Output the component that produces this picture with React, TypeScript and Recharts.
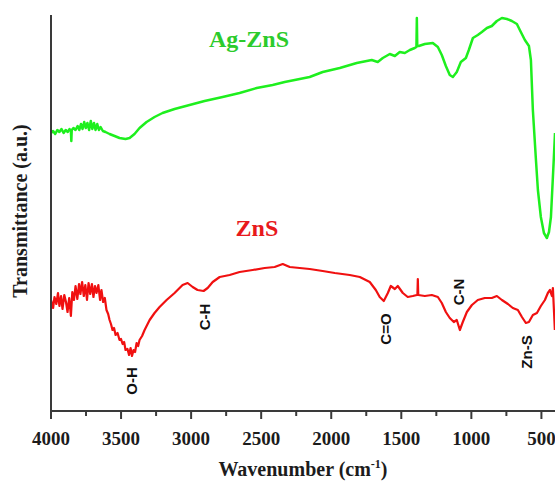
import React from "react";
import { LineChart, Line, XAxis, YAxis, ReferenceDot } from "recharts";

// Ag-ZnS spectrum (wavenumber cm-1, transmittance a.u.)
const agZnSWave = [4000, 3985, 3970, 3955, 3940, 3925, 3910, 3895, 3880, 3868, 3858, 3855, 3852, 3840, 3825, 3810, 3798, 3786, 3775, 3763, 3752, 3740, 3728, 3716, 3705, 3693, 3682, 3670, 3658, 3646, 3630, 3611, 3582, 3546, 3511, 3468, 3439, 3404, 3368, 3318, 3261, 3204, 3118, 3011, 2904, 2775, 2654, 2532, 2418, 2332, 2225, 2154, 2061, 1939, 1818, 1711, 1668, 1632, 1582, 1546, 1511, 1475, 1439, 1404, 1392, 1389, 1386, 1375, 1332, 1275, 1239, 1211, 1182, 1154, 1132, 1104, 1075, 1039, 1018, 989, 954, 925, 889, 854, 818, 782, 746, 711, 675, 654, 618, 589, 575, 561, 539, 525, 504, 482, 461, 446, 432, 411, 403];
const agZnSTrans = [279, 281, 278, 282, 280, 283, 279, 282, 280, 283, 281, 271, 282, 284, 282, 286, 282, 288, 283, 290, 284, 289, 282, 291, 283, 289, 282, 288, 282, 285, 281, 280, 278, 276, 274, 273, 274, 278, 284, 290, 295, 299, 303, 307, 311, 315, 319, 324, 327, 330, 333, 335, 340, 344, 349, 352, 350, 354, 358, 356, 360, 359, 362, 364, 365, 394, 366, 366, 368, 369, 365, 357, 346, 337, 335, 340, 350, 354, 362, 374, 377, 380, 384, 386, 391, 394, 393, 391, 388, 382, 372, 366, 352, 302, 252, 222, 195, 179, 174, 180, 195, 255, 279];

// ZnS spectrum
const znSWave = [4000, 3985, 3975, 3962, 3950, 3940, 3928, 3918, 3905, 3893, 3882, 3870, 3858, 3848, 3836, 3825, 3812, 3800, 3790, 3778, 3766, 3755, 3743, 3732, 3720, 3708, 3697, 3686, 3675, 3662, 3650, 3640, 3628, 3616, 3604, 3592, 3582, 3572, 3561, 3550, 3539, 3525, 3511, 3500, 3489, 3478, 3468, 3454, 3443, 3432, 3422, 3411, 3400, 3389, 3378, 3368, 3350, 3332, 3296, 3261, 3225, 3175, 3118, 3061, 3025, 2989, 2954, 2911, 2882, 2846, 2796, 2725, 2654, 2561, 2475, 2404, 2346, 2296, 2225, 2154, 2061, 1975, 1868, 1796, 1725, 1682, 1654, 1625, 1596, 1575, 1546, 1525, 1489, 1454, 1418, 1389, 1385, 1382, 1379, 1332, 1282, 1239, 1211, 1182, 1154, 1125, 1104, 1082, 1061, 1032, 996, 954, 904, 854, 818, 782, 739, 704, 668, 639, 611, 589, 561, 532, 504, 475, 454, 439, 425, 418, 404];
const znSTrans = [112, 104, 115, 108, 119, 106, 116, 103, 117, 110, 100, 114, 96, 120, 112, 126, 113, 128, 118, 130, 116, 127, 112, 129, 118, 128, 115, 126, 119, 127, 112, 122, 110, 114, 102, 98, 92, 88, 82, 84, 77, 79, 72, 73, 68, 70, 62, 63, 57, 64, 56, 62, 60, 69, 66, 72, 76, 82, 92, 99, 105, 112, 119, 127, 129, 125, 122, 121, 124, 130, 135, 137, 140, 142, 144, 145, 148, 145, 144, 143, 141, 139, 137, 135, 130, 122, 115, 111, 119, 126, 123, 126, 119, 115, 116, 117, 117, 133, 117, 116, 117, 115, 109, 100, 94, 90, 92, 82, 90, 100, 107, 112, 114, 114, 116, 112, 108, 104, 102, 95, 89, 90, 97, 99, 106, 112, 119, 122, 116, 124, 82];

const xTicks = [4000, 3750, 3500, 3250, 3000, 2750, 2500, 2250, 2000, 1750, 1500, 1250, 1000, 750, 500];

// Band annotations: label, wavenumber, transmittance position
const bandLabels = ["O-H", "C-H", "C=O", "C-N", "Zn-S"];
const bandWave = [3422, 2901, 1616, 1095, 603];
const bandTrans = [31, 95, 83, 120, 60];

const seriesNames = ["Ag-ZnS", "ZnS"];
const seriesLabelWave = [2587, 2530];
const seriesLabelTrans = [365, 176];

const agData = agZnSWave.map((w, i) => ({ w, t: agZnSTrans[i] }));
const znData = znSWave.map((w, i) => ({ w, t: znSTrans[i] }));

const AXIS = "#3a3a3a";
const SERIF = "'Liberation Serif', 'Times New Roman', serif";
const SANS = "'Liberation Sans', Arial, sans-serif";

function XTick(props: any) {
  const { x, y, payload } = props;
  const v = payload.value;
  const major = v % 500 === 0;
  return (
    <g>
      <line x1={x} x2={x} y1={y} y2={y + (major ? 8 : 5)} stroke={AXIS} strokeWidth={2} />
      {major && (
        <text x={x} y={y + 34} textAnchor="middle" fontFamily={SERIF} fontWeight="bold" fontSize={19} fill="#1c1c1c">
          {v}
        </text>
      )}
    </g>
  );
}

const rotLabel = (text: string) => (p: any) => (
  <text
    transform={`rotate(-90 ${p.cx} ${p.cy})`}
    x={p.cx}
    y={p.cy}
    textAnchor="middle"
    dominantBaseline="central"
    fontFamily={SANS}
    fontWeight="bold"
    fontSize={15}
    fill="#111"
  >
    {text}
  </text>
);

const nameLabel = (text: string, color: string) => (p: any) => (
  <text x={p.cx} y={p.cy} textAnchor="middle" fontFamily={SERIF} fontWeight="bold" fontSize={24} fill={color}>
    {text}
  </text>
);

export default function App() {
  const nameColors = ["#2ccb2c", "#e8191c"];
  return (
    <div style={{ position: "relative", width: 555, height: 482, overflow: "hidden" }}>
      <style>{`html,body{margin:0;padding:0;overflow:hidden;background:#fff}`}</style>
      <LineChart width={555} height={482} margin={{ top: 15, right: 0, bottom: 41, left: 0 }}>
        <XAxis
          type="number"
          dataKey="w"
          domain={[403, 4000]}
          reversed
          allowDataOverflow
          ticks={xTicks}
          interval={0}
          tickSize={0}
          tickMargin={0}
          height={30}
          tick={<XTick />}
          axisLine={{ stroke: AXIS, strokeWidth: 2 }}
          tickLine={false}
        />
        <YAxis
          type="number"
          domain={[1, 397]}
          width={51}
          tick={false}
          tickLine={false}
          axisLine={{ stroke: AXIS, strokeWidth: 2 }}
        />
        <Line
          data={agData}
          dataKey="t"
          type="linear"
          stroke="#1eef1e"
          strokeWidth={2.5}
          dot={false}
          isAnimationActive={false}
          strokeLinejoin="round"
        />
        <Line
          data={znData}
          dataKey="t"
          type="linear"
          stroke="#f01010"
          strokeWidth={2.2}
          dot={false}
          isAnimationActive={false}
          strokeLinejoin="round"
        />
        {bandLabels.map((b, i) => (
          <ReferenceDot key={b} x={bandWave[i]} y={bandTrans[i]} r={0} shape={rotLabel(b)} />
        ))}
        {seriesNames.map((n, i) => (
          <ReferenceDot
            key={n}
            x={seriesLabelWave[i]}
            y={seriesLabelTrans[i]}
            r={0}
            shape={nameLabel(n, nameColors[i])}
          />
        ))}
      </LineChart>
      <svg
        width={555}
        height={482}
        style={{ position: "absolute", left: 0, top: 0, pointerEvents: "none" }}
      >
        <text
          x={303}
          y={476}
          textAnchor="middle"
          fontFamily={SERIF}
          fontWeight="bold"
          fontSize={20}
          fill="#1c1c1c"
        >
          Wavenumber (cm
          <tspan dy={-8} fontSize={12}>-1</tspan>
          <tspan dy={8}>)</tspan>
        </text>
        <text
          transform="translate(27,211) rotate(-90)"
          textAnchor="middle"
          fontFamily={SERIF}
          fontWeight="bold"
          fontSize={20}
          fill="#1c1c1c"
        >
          Transmittance (a.u.)
        </text>
      </svg>
    </div>
  );
}
